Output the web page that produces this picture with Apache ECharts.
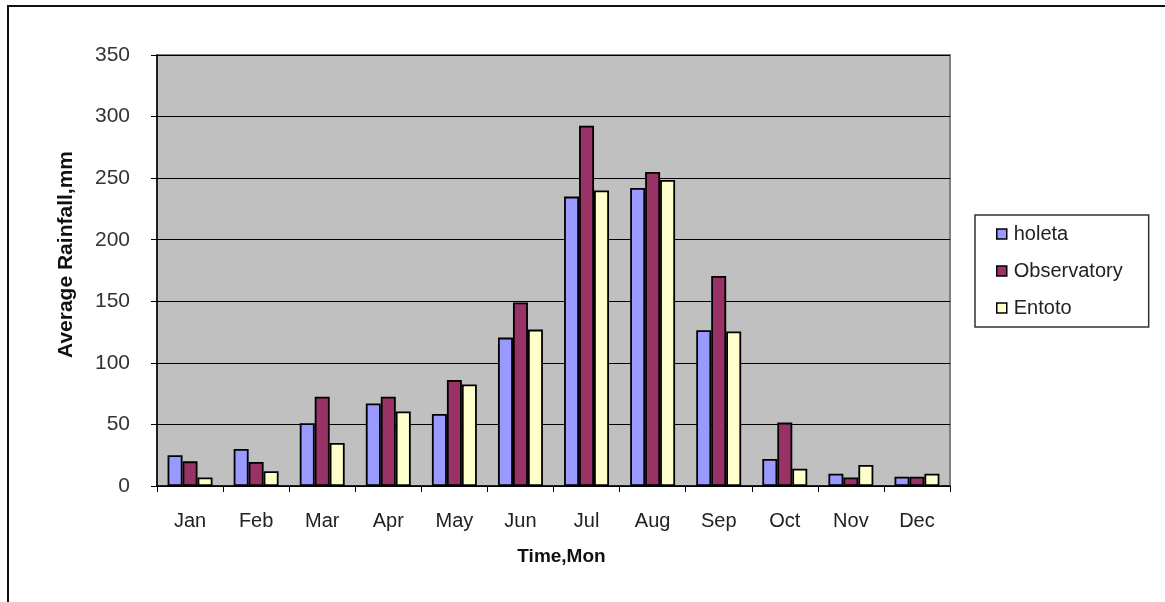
<!DOCTYPE html>
<html>
<head>
<meta charset="utf-8">
<script src="https://cdn.jsdelivr.net/npm/echarts@6/dist/echarts.min.js"></script>
<style>
html,body{margin:0;padding:0;background:#fff;}
#chart{width:1165px;height:602px;}
</style>
</head>
<body>
<div id="chart"></div>
<script>
const months = ['Jan','Feb','Mar','Apr','May','Jun','Jul','Aug','Sep','Oct','Nov','Dec'];
const holeta = [25, 30, 51, 67, 58.5, 120.5, 235, 242, 126.5, 22, 10, 7.5];
const observatory = [20, 19.5, 72.5, 72.5, 86, 149, 292.5, 255, 170.5, 51.5, 7, 7.5];
const entoto = [7, 12, 35, 60.5, 82.5, 127, 240, 248.5, 125.5, 14, 17, 10];
const yTicks = [0, 50, 100, 150, 200, 250, 300, 350];

const chart = echarts.init(document.getElementById('chart'));
const font = 'Liberation Sans, Arial, sans-serif';
const barStyle = c => ({color: c, borderColor: '#000', borderWidth: 1.8});
chart.setOption({
  animation: false,
  textStyle: {fontFamily: font},
  graphic: [
    {type: 'rect', shape: {x: 8, y: 6, width: 1170, height: 610},
     style: {fill: 'none', stroke: '#111', lineWidth: 2}, z: 100, silent: true}
  ],
  grid: {left: 157, right: 215, top: 55, bottom: 116,
    show: true, backgroundColor: '#C0C0C0', borderColor: '#808080', borderWidth: 2},
  legend: {
    orient: 'vertical', left: 975, top: 215, itemGap: 17,
    itemWidth: 10, itemHeight: 10,
    data: ['holeta', 'Observatory', 'Entoto'],
    textStyle: {fontSize: 20, color: '#222', fontFamily: font, padding: [0,0,0,2]},
    backgroundColor: '#fff', borderColor: '#333', borderWidth: 1.5,
    padding: [9, 26, 9, 21],
    icon: 'rect',
    itemStyle: {borderColor: '#000', borderWidth: 1.5}
  },
  xAxis: {
    type: 'category', data: months,
    name: 'Time,Mon', nameLocation: 'middle', nameGap: 61,
    nameTextStyle: {fontSize: 19, fontWeight: 'bold', color: '#111', fontFamily: font,
      padding: [0, 0, 0, 16]},
    axisLine: {lineStyle: {color: '#000', width: 1.5}},
    axisTick: {show: true, length: 6, lineStyle: {color: '#000'}},
    axisLabel: {fontSize: 20, color: '#222', margin: 25, fontFamily: font}
  },
  yAxis: {
    type: 'value', min: yTicks[0], max: yTicks[yTicks.length - 1], interval: 50,
    name: 'Average Rainfall,mm', nameLocation: 'middle', nameGap: 80,
    nameTextStyle: {fontSize: 21, fontWeight: 'bold', color: '#111', fontFamily: font,
      padding: [0, 0, 0, 32]},
    axisLine: {show: true, lineStyle: {color: '#000', width: 1.5}},
    axisTick: {show: true, length: 6, lineStyle: {color: '#000'}},
    axisLabel: {fontSize: 21, color: '#333', margin: 27, fontFamily: font},
    splitLine: {lineStyle: {color: '#000', width: 1.2}}
  },
  series: [
    {name: 'holeta', type: 'bar', data: holeta, barGap: '0%', barCategoryGap: '32%',
     itemStyle: barStyle('#9999FF')},
    {name: 'Observatory', type: 'bar', data: observatory, barGap: '0%', barCategoryGap: '32%',
     itemStyle: barStyle('#993366')},
    {name: 'Entoto', type: 'bar', data: entoto, barGap: '0%', barCategoryGap: '32%',
     itemStyle: barStyle('#FFFFCC')}
  ]
});
</script>
</body>
</html>
